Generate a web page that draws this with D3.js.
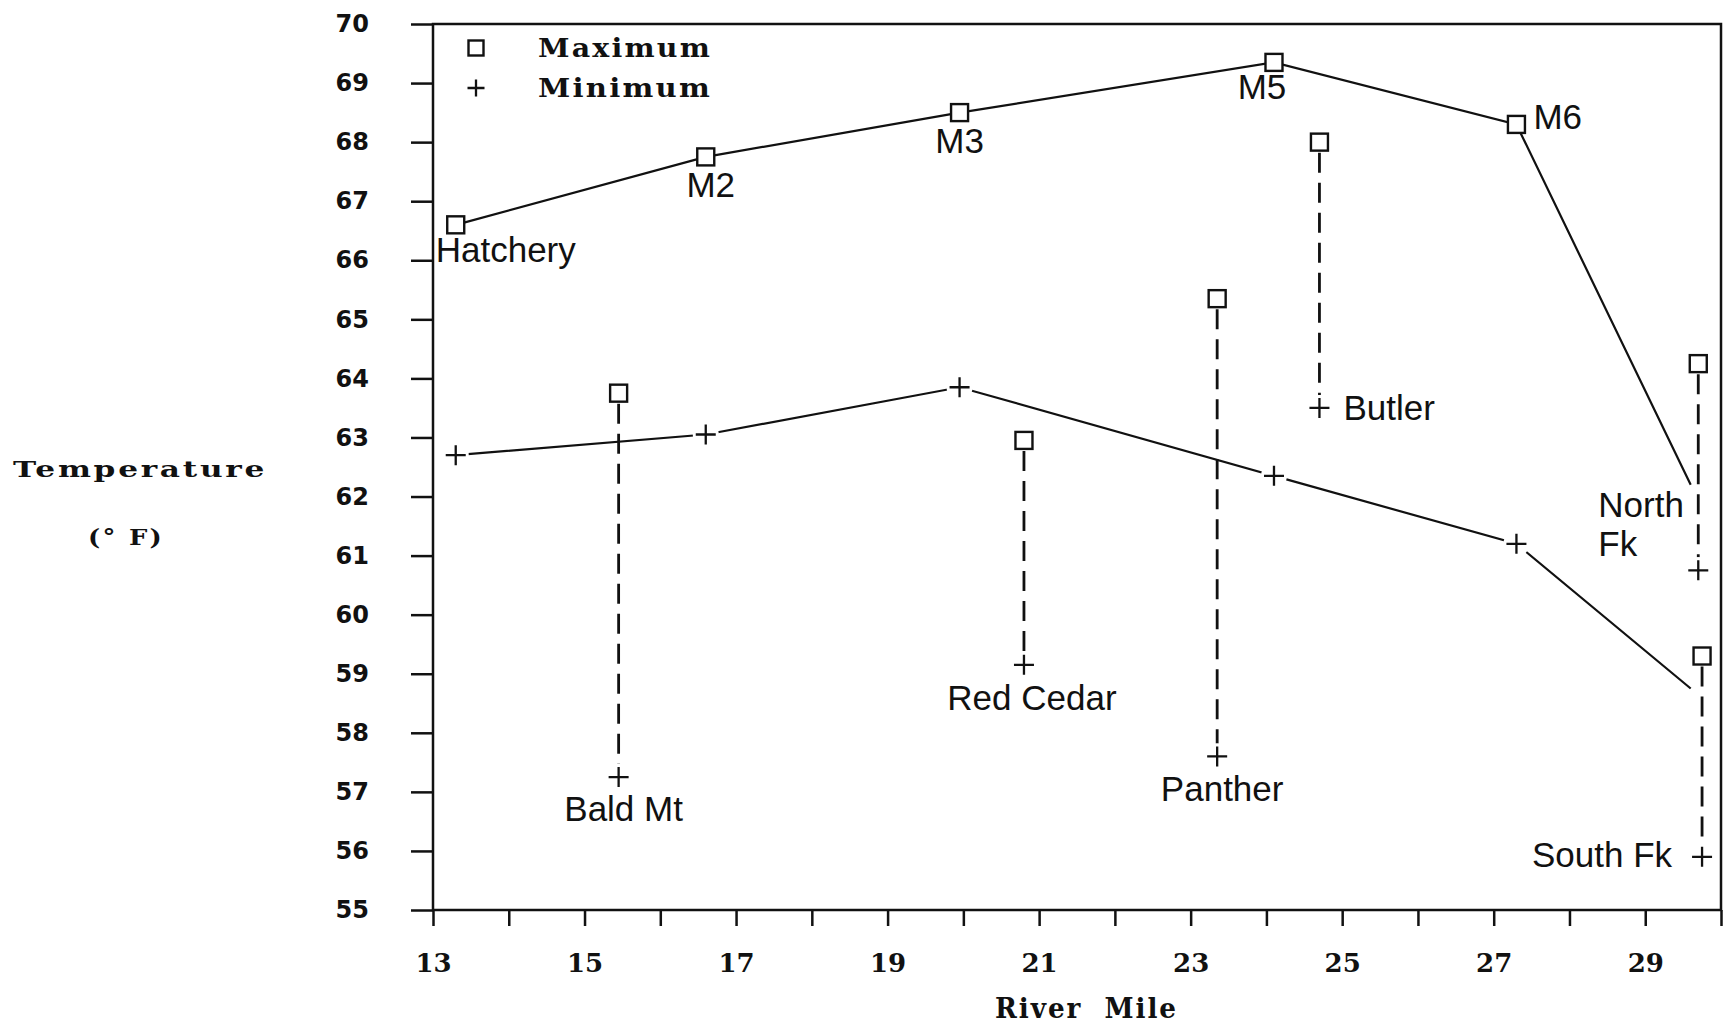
<!DOCTYPE html>
<html>
<head>
<meta charset="utf-8">
<script src="https://cdn.jsdelivr.net/npm/d3@7"></script>
<style>
  html, body { margin: 0; padding: 0; background: #fff; }
  svg { display: block; }
</style>
</head>
<body>
<svg id="chart" width="1727" height="1026"></svg>
<script>
// Mainstem stations (maximum and minimum water temperature, °F)
const stationNames = ["Hatchery", "M2", "M3", "M5", "M6"];
const stationMiles = [13.3, 16.6, 19.95, 24.1, 27.3];
const stationMax   = [66.6, 67.75, 68.5, 69.35, 68.3];
const stationMin   = [62.7, 63.05, 63.85, 62.35, 61.2];

// Mainstem lines run on to the forks confluence (no station marker there)
const confluenceMile = 29.6;
const confluenceMax  = 62.2;
const confluenceMin  = 58.75;

// Tributaries
const tribNames = ["Bald Mt", "Red Cedar", "Panther", "Butler", "North Fk", "South Fk"];
const tribMiles = [15.45, 20.8, 23.35, 24.7, 29.7, 29.75];
const tribMax   = [63.75, 62.95, 65.35, 68.0, 64.25, 59.3];
const tribMin   = [57.25, 59.15, 57.6, 63.5, 60.75, 55.9];

// Axis ticks
const yTickValues = d3.range(55, 71, 1);
const xTickValues = d3.range(13, 31, 1);
const xTickLabels = [13, 15, 17, 19, 21, 23, 25, 27, 29];

const legendNames = ["Maximum", "Minimum"];

// ---- layout ----
const frame = { left: 433, right: 1721, top: 24, bottom: 910 };
const svg = d3.select("#chart");

const x = d3.scaleLinear().domain([13, 30]).range([frame.left, frame.right]);
const y = d3.scaleLinear().domain([55, 70]).range([frame.bottom, frame.top]);

const INK = "#111";
const labelFont = "'Liberation Sans', Arial, sans-serif";
const slabFont = "'DejaVu Serif', serif";

// wide slab-serif caption, stretched to a fixed width
function slabText(sel, txt, px, py, size, len) {
  return sel.append("text")
    .attr("x", px).attr("y", py)
    .attr("textLength", len).attr("lengthAdjust", "spacingAndGlyphs")
    .style("font-family", slabFont).style("font-weight", "bold")
    .style("font-size", size + "px").style("letter-spacing", "2px")
    .style("white-space", "pre")
    .attr("fill", INK).text(txt);
}

// ---- axes ----
const yAxis = d3.axisLeft(y).tickValues(yTickValues).tickSize(22).tickPadding(42)
  .tickFormat(d3.format("d"));
const gy = svg.append("g").attr("transform", `translate(${frame.left},0)`).call(yAxis);
gy.select(".domain").remove();
gy.selectAll(".tick line").attr("stroke", INK).attr("stroke-width", 2.5);
gy.selectAll(".tick text")
  .attr("fill", INK)
  .style("font-family", "'DejaVu Sans', sans-serif")
  .style("font-weight", "bold")
  .style("font-size", "24px");

const xAxis = d3.axisBottom(x).tickValues(xTickValues).tickSize(16).tickPadding(28)
  .tickFormat(d => xTickLabels.includes(d) ? d : "");
const gx = svg.append("g").attr("transform", `translate(0,${frame.bottom})`).call(xAxis);
gx.select(".domain").remove();
gx.selectAll(".tick line").attr("stroke", INK).attr("stroke-width", 2.5);
gx.selectAll(".tick text")
  .attr("fill", INK)
  .style("font-family", slabFont)
  .style("font-weight", "bold")
  .style("font-size", "26px");

// plot frame
svg.append("rect")
  .attr("x", frame.left).attr("y", frame.top)
  .attr("width", frame.right - frame.left).attr("height", frame.bottom - frame.top)
  .attr("fill", "none").attr("stroke", INK).attr("stroke-width", 2.5);

// axis titles
slabText(svg, "Temperature", 13, 477, 23, 254);
slabText(svg, "(° F)", 88, 545, 23, 76);
slabText(svg, "River  Mile", 995, 1018, 27, 183);

// ---- marker helpers ----
const SQ = 17, PL = 20;
function square(g, cx, cy, s) {
  g.append("rect").attr("x", cx - s / 2).attr("y", cy - s / 2)
    .attr("width", s).attr("height", s)
    .attr("fill", "#fff").attr("stroke", INK).attr("stroke-width", 2.4);
}
function plus(g, cx, cy, s) {
  g.append("circle").attr("cx", cx).attr("cy", cy).attr("r", s / 2 + 3).attr("fill", "#fff");
  g.append("path")
    .attr("d", `M${cx - s / 2},${cy}H${cx + s / 2}M${cx},${cy - s / 2}V${cy + s / 2}`)
    .attr("stroke", INK).attr("stroke-width", 2.3).attr("fill", "none");
}

// ---- mainstem lines ----
const line = d3.line().x(d => x(d[0])).y(d => y(d[1]));
const maxPts = stationMiles.map((m, i) => [m, stationMax[i]]).concat([[confluenceMile, confluenceMax]]);
const minPts = stationMiles.map((m, i) => [m, stationMin[i]]).concat([[confluenceMile, confluenceMin]]);

const gLines = svg.append("g");
[maxPts, minPts].forEach(pts => {
  gLines.append("path").attr("d", line(pts))
    .attr("fill", "none").attr("stroke", INK).attr("stroke-width", 2.2);
});

// ---- tributary ranges (dashed) ----
const gTrib = svg.append("g");
tribMiles.forEach((m, i) => {
  gTrib.append("line")
    .attr("x1", x(m)).attr("x2", x(m))
    .attr("y1", y(tribMax[i]) + SQ / 2 + 2)
    .attr("y2", y(tribMin[i]) - PL / 2 - 3)
    .attr("stroke", INK).attr("stroke-width", 2.8)
    .attr("stroke-dasharray", "20 10");
});

// ---- markers ----
const gMarks = svg.append("g");
stationMiles.forEach((m, i) => {
  plus(gMarks, x(m), y(stationMin[i]), PL);
  square(gMarks, x(m), y(stationMax[i]), SQ);
});
tribMiles.forEach((m, i) => {
  square(gMarks, x(m), y(tribMax[i]), SQ);
  plus(gMarks, x(m), y(tribMin[i]), PL);
});

// ---- station labels ----
const gLab = svg.append("g")
  .style("font-family", labelFont).style("font-size", "35px").attr("fill", INK);

// label placement relative to the marker: [anchor, dx, dy]
const stationLabelPos = {
  "Hatchery": ["start", -20, 37],
  "M2": ["middle", 5, 40],
  "M3": ["middle", 0, 40],
  "M5": ["middle", -12, 37],
  "M6": ["start", 17, 5]
};
stationNames.forEach((n, i) => {
  const p = stationLabelPos[n];
  gLab.append("text")
    .attr("x", x(stationMiles[i]) + p[1]).attr("y", y(stationMax[i]) + p[2])
    .attr("text-anchor", p[0]).text(n);
});

const tribLabelPos = {
  "Bald Mt": ["middle", 5, 44],
  "Red Cedar": ["middle", 8, 45],
  "Panther": ["middle", 5, 45],
  "Butler": ["start", 24, 12],
  "North Fk": ["start", -100, -53],
  "South Fk": ["end", -30, 10]
};
tribNames.forEach((n, i) => {
  const p = tribLabelPos[n];
  const t = gLab.append("text")
    .attr("x", x(tribMiles[i]) + p[1]).attr("y", y(tribMin[i]) + p[2])
    .attr("text-anchor", p[0]);
  if (n === "North Fk") {
    const words = n.split(" ");
    t.append("tspan").text(words[0]);
    t.append("tspan").attr("x", x(tribMiles[i]) + p[1]).attr("dy", 39).text(words[1]);
  } else {
    t.text(n);
  }
});

// ---- legend ----
const gLeg = svg.append("g");
const legX = 476, legY = [48, 88];
square(gLeg, legX, legY[0], 15);
plus(gLeg, legX, legY[1], 17);
legendNames.forEach((n, i) => {
  slabText(gLeg, n, 538, legY[i] + 9, 26, 174);
});
</script>
</body>
</html>
